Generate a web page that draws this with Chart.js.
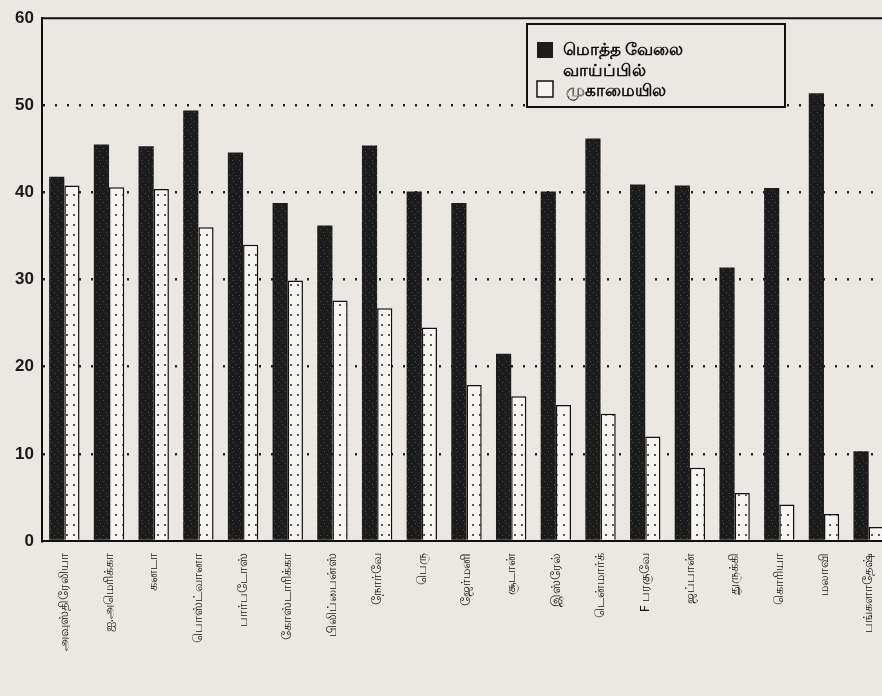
<!DOCTYPE html>
<html>
<head>
<meta charset="utf-8">
<script src="https://cdn.jsdelivr.net/npm/chart.js@4.4.1/dist/chart.umd.min.js"></script>
<style>
  html, body { margin: 0; padding: 0; background: #ebe8e3; overflow: hidden; }
  #wrap { width: 893px; height: 696px; position: relative; }
</style>
</head>
<body>
<div id="wrap"><canvas id="chart"></canvas></div>
<script>
// countries
const countries = [
  'அவுஸ்திரேலியா', 'ஐ.அமெரிக்கா', 'கனடா', 'பொஸ்ட்வானா', 'பார்படோஸ்',
  'கோஸ்டாரிக்கா', 'பிலிப்பைன்ஸ்', 'நோர்வே', 'பெரு', 'ஜேர்மனி',
  'சூடான்', 'இஸ்ரேல்', 'டென்மார்க்', 'F பரகுவே', 'ஜப்பான்',
  'துருக்கி', 'கொரியா', 'மலாவி', 'பங்களாதேஷ்'
];
// share of total employment (dark bars)
const totalEmployment = [41.8, 45.5, 45.3, 49.4, 44.6, 38.8, 36.2, 45.4, 40.1, 38.8,
  21.5, 40.1, 46.2, 40.9, 40.8, 31.4, 40.5, 51.4, 10.3];
// share in management (light bars)
const management = [40.8, 40.6, 40.4, 36.0, 34.0, 29.9, 27.6, 26.7, 24.5, 17.9,
  16.6, 15.6, 14.6, 12.0, 8.4, 5.5, 4.2, 3.1, 1.6];
const yTicks = [0, 10, 20, 30, 40, 50, 60];
const seriesNames = ['மொத்த வேலை வாய்ப்பில்', 'முகாமையில'];

// dark speckled fill
function darkPattern() {
  const c = document.createElement('canvas');
  c.width = 7; c.height = 9;
  const g = c.getContext('2d');
  g.fillStyle = '#1c1c1c';
  g.fillRect(0, 0, 7, 9);
  g.fillStyle = '#4a4a4a';
  g.fillRect(2, 1, 1, 1);
  g.fillRect(5, 4, 1, 1);
  g.fillRect(1, 7, 1, 1);
  return g.createPattern(c, 'repeat');
}
// light fill with dotted columns
function lightPattern() {
  const c = document.createElement('canvas');
  c.width = 7; c.height = 10;
  const g = c.getContext('2d');
  g.fillStyle = '#f6f4f0';
  g.fillRect(0, 0, 7, 10);
  g.fillStyle = '#555';
  g.fillRect(3, 4, 2, 2);
  return g.createPattern(c, 'repeat');
}

const frameAndLegend = {
  id: 'frameAndLegend',
  afterDraw(chart) {
    const ctx = chart.ctx;
    const a = chart.chartArea;
    ctx.save();
    // top frame line
    ctx.strokeStyle = '#111';
    ctx.lineWidth = 2;
    ctx.beginPath();
    ctx.moveTo(a.left, a.top);
    ctx.lineTo(a.right, a.top);
    ctx.stroke();

    // legend box
    const bx = 527, by = 24, bw = 258, bh = 83;
    ctx.fillStyle = '#ebe8e3';
    ctx.fillRect(bx, by, bw, bh);
    ctx.strokeRect(bx, by, bw, bh);
    ctx.fillStyle = '#1c1c1c';
    ctx.fillRect(537, 42, 16, 16);
    ctx.fillStyle = '#f6f4f0';
    ctx.fillRect(537, 81, 16, 16);
    ctx.lineWidth = 1.5;
    ctx.strokeRect(537, 81, 16, 16);

    const first = chart.data.datasets[0].label;
    const cut = first.lastIndexOf(' ');
    ctx.fillStyle = '#111';
    ctx.font = 'bold 17px "Noto Sans", sans-serif';
    ctx.textBaseline = 'middle';
    ctx.fillText(first.slice(0, cut), 563, 50);
    ctx.fillText(first.slice(cut + 1), 563, 71);
    ctx.fillText(chart.data.datasets[1].label, 566, 91);
    ctx.restore();
  }
};

new Chart(document.getElementById('chart'), {
  type: 'bar',
  data: {
    labels: countries,
    datasets: [
      {
        label: seriesNames[0],
        data: totalEmployment,
        backgroundColor: darkPattern(),
        borderWidth: 0,
        barPercentage: 1.0,
        categoryPercentage: 0.68
      },
      {
        label: seriesNames[1],
        data: management,
        backgroundColor: lightPattern(),
        borderColor: '#111',
        borderWidth: 1.5,
        barPercentage: 1.0,
        categoryPercentage: 0.68
      }
    ]
  },
  options: {
    responsive: true,
    maintainAspectRatio: false,
    animation: false,
    layout: { padding: { top: 13, right: 2, left: 0, bottom: 0 } },
    plugins: {
      legend: { display: false },
      tooltip: { enabled: false }
    },
    scales: {
      x: {
        grid: { display: false },
        border: { display: true, color: '#111', width: 2 },
        ticks: {
          minRotation: 90,
          maxRotation: 90,
          autoSkip: false,
          padding: 4,
          color: '#111',
          font: { family: '"Noto Sans", sans-serif', size: 13 }
        },
        afterFit(scale) { scale.height = 155; }
      },
      y: {
        min: 0,
        max: 60,
        afterBuildTicks(scale) { scale.ticks = yTicks.map(v => ({ value: v })); },
        border: { display: true, color: '#111', width: 2, dash: [2, 10] },
        grid: {
          color: c => (c.tick.value === 0 || c.tick.value === 60) ? 'rgba(0,0,0,0)' : '#222',
          lineWidth: 2.5,
          drawTicks: false
        },
        ticks: {
          padding: 8,
          color: '#1a1a1a',
          font: { family: '"Liberation Sans", Arial, sans-serif', size: 17, weight: 'bold' }
        },
        afterFit(scale) { scale.width = 42; }
      }
    }
  },
  plugins: [frameAndLegend]
});
</script>
</body>
</html>
